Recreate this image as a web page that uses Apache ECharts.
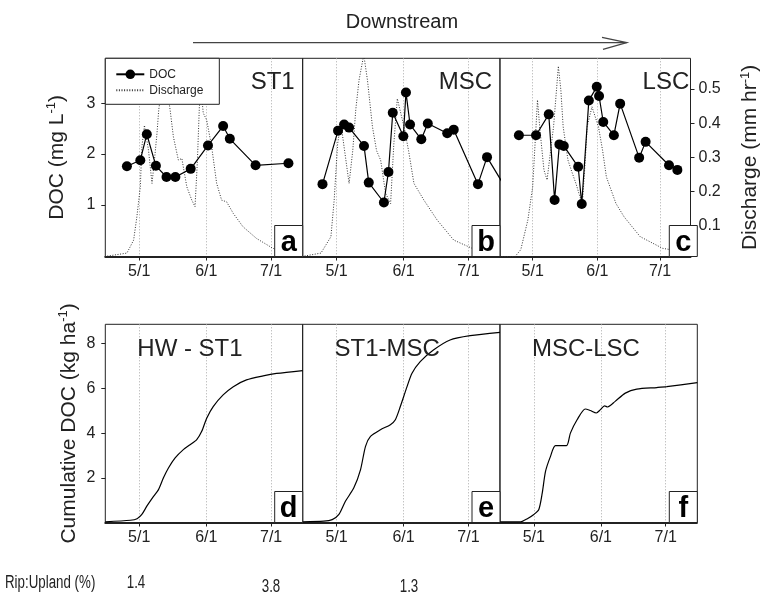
<!DOCTYPE html>
<html>
<head>
<meta charset="utf-8">
<script src="https://cdn.jsdelivr.net/npm/echarts@6/dist/echarts.min.js"></script>
<style>
  html, body { margin: 0; padding: 0; background: #fff; }
  #chart { width: 762px; height: 595px; }
</style>
</head>
<body>
<div id="chart"></div>
<script>
  // all x values are day of year (5/1 = 121, 6/1 = 152, 7/1 = 182)
  const monthDays = [121, 152, 182];
  const monthLabels = ['5/1', '6/1', '7/1'];
  const docTicks = [1, 2, 3];
  const qTicks = [0.1, 0.2, 0.3, 0.4, 0.5];
  const cumTicks = [2, 4, 6, 8];

  const panelNames = ['ST1', 'MSC', 'LSC'];
  const reachNames = ['HW - ST1', 'ST1-MSC', 'MSC-LSC'];
  const panelLetters = ['a', 'b', 'c', 'd', 'e', 'f'];
  const ripUpland = ['1.4', '3.8', '1.3'];

  // DOC (mg L-1)
  const docDaysA = [115.3, 121.5, 124.5, 128.7, 133.6, 137.7, 144.8, 152.8, 159.8, 162.9, 174.8, 190.0];
  const docA = [1.76, 1.88, 2.39, 1.77, 1.55, 1.55, 1.71, 2.17, 2.55, 2.30, 1.78, 1.82];
  const docDaysB = [114.5, 121.7, 124.5, 126.8, 133.7, 135.9, 142.9, 145.0, 147.0, 151.9, 153.1, 155.0, 160.2, 163.2, 172.2, 175.2, 186.4, 190.6, 199];
  const docB = [1.41, 2.46, 2.58, 2.52, 2.16, 1.44, 1.05, 1.65, 2.81, 2.35, 3.21, 2.58, 2.29, 2.60, 2.41, 2.48, 1.41, 1.94, 1.35];
  const docDaysC = [114.4, 122.6, 128.7, 131.5, 133.8, 135.9, 142.8, 144.5, 147.9, 151.7, 152.8, 154.8, 159.9, 162.9, 172.0, 175.1, 186.3, 190.3];
  const docC = [2.37, 2.37, 2.78, 1.10, 2.19, 2.16, 1.75, 1.02, 3.05, 3.32, 3.14, 2.63, 2.37, 2.99, 1.93, 2.24, 1.78, 1.69];

  // Discharge (mm hr-1)
  const qDaysA = [105, 115.3, 118.4, 119.9, 121.5, 122.2, 123.4, 125.3, 126.9, 128, 129.2, 130, 132.5, 135.3, 136.8, 139.1, 140.7, 143, 145.3, 146.8, 147.9, 148.8, 149.6, 150.6, 152.2, 154.5, 156.8, 159.1, 161.4, 164.5, 169, 175.2, 182.8, 190.5, 196.6];
  const qA = [0.01, 0.02, 0.058, 0.126, 0.214, 0.33, 0.394, 0.32, 0.224, 0.29, 0.37, 0.438, 0.56, 0.438, 0.36, 0.292, 0.297, 0.214, 0.175, 0.156, 0.29, 0.448, 0.5, 0.43, 0.409, 0.331, 0.224, 0.175, 0.17, 0.136, 0.097, 0.063, 0.034, 0.019, 0.014];
  const qDaysB = [105, 113.8, 118.4, 119.9, 121.5, 123, 124.5, 126.8, 128.5, 129.9, 131.4, 133.6, 135.3, 137.6, 139.5, 141.4, 143.7, 146, 147.5, 149.1, 152.2, 154.3, 156.8, 161.4, 167.5, 175.2, 183.7, 196.6];
  const qB = [0.01, 0.02, 0.068, 0.175, 0.34, 0.40, 0.33, 0.224, 0.32, 0.44, 0.526, 0.60, 0.526, 0.39, 0.32, 0.292, 0.195, 0.165, 0.34, 0.472, 0.39, 0.32, 0.224, 0.175, 0.117, 0.058, 0.034, 0.02];
  const qDaysC = [105, 112.6, 115.3, 118.7, 121, 122.6, 123.3, 124.5, 126.4, 127.9, 129.6, 131, 132.4, 133.3, 134.5, 135.6, 137.9, 139.8, 141.7, 143.4, 144.8, 146.2, 147.1, 149.4, 152.5, 154.5, 156.3, 160.9, 164.8, 172.5, 183.2, 196.6];
  const qC = [0.01, 0.01, 0.03, 0.117, 0.214, 0.39, 0.468, 0.38, 0.263, 0.234, 0.32, 0.39, 0.497, 0.567, 0.497, 0.39, 0.292, 0.257, 0.224, 0.19, 0.165, 0.292, 0.39, 0.448, 0.39, 0.32, 0.243, 0.165, 0.126, 0.068, 0.034, 0.02];

  // Cumulative DOC (kg ha-1)
  const cumDaysD = [105.3, 116.9, 120, 122.2, 124.5, 127.6, 129.9, 132.2, 134.5, 137.6, 141.4, 144.5, 147.6, 149.9, 152.2, 155.2, 159.8, 164.5, 170.6, 178.3, 184.5, 196.6];
  const cumD = [0.03, 0.1, 0.17, 0.36, 0.73, 1.17, 1.47, 2.0, 2.44, 2.89, 3.26, 3.48, 3.71, 4.08, 4.67, 5.19, 5.71, 6.08, 6.38, 6.56, 6.67, 6.8];
  const cumDaysE = [105.3, 115.1, 119, 122.1, 125.1, 129, 132.1, 134.4, 136.7, 141.3, 145.9, 148.2, 150.5, 153.6, 155.9, 159.7, 165.8, 173.5, 182.8, 196.6];
  const cumE = [0.03, 0.06, 0.13, 0.36, 0.95, 1.55, 2.37, 3.41, 3.85, 4.15, 4.38, 4.6, 5.19, 6.08, 6.68, 7.2, 7.72, 8.17, 8.36, 8.51];
  const cumDaysF = [105.3, 114.9, 118, 121, 123.3, 124.9, 126.4, 128.7, 131, 136.1, 137.9, 141, 144.8, 147.1, 149.9, 151.7, 153.7, 155.1, 158.6, 163.3, 168.6, 177.9, 182.5, 196.6];
  const cumF = [0.03, 0.03, 0.17, 0.36, 0.58, 1.33, 2.29, 2.96, 3.44, 3.44, 4.0, 4.6, 5.08, 5.01, 4.9, 5.04, 5.22, 5.17, 5.42, 5.79, 5.97, 6.04, 6.08, 6.26];

  const FONT = 'Liberation Sans, Arial, Helvetica, sans-serif';
  const INK = '#222';
  const panelLeft = [105.3, 302.6, 499.9];
  const panelW = 197.4;
  const rowTop = [58.3, 324.3];
  const panelH = 198.2;

  const zip = (xs, ys) => xs.map((x, i) => [x, ys[i]]);

  const myChart = echarts.init(document.getElementById('chart'), null, { renderer: 'canvas' });

  const grids = [];
  const xAxes = [];
  for (let r = 0; r < 2; r++) {
    for (let c = 0; c < 3; c++) {
      grids.push({
        left: panelLeft[c], top: rowTop[r], width: panelW, height: panelH,
        show: true, borderColor: INK, borderWidth: 1, backgroundColor: 'transparent',
      });
      xAxes.push({
        type: 'value', gridIndex: r * 3 + c, min: 105.3, max: 196.6,
        axisLine: { show: true, onZero: false, lineStyle: { color: INK, width: 2, type: [2, 1] } },
        axisTick: { show: true, inside: false, length: 4, customValues: monthDays, lineStyle: { color: INK } },
        axisLabel: {
          show: true, customValues: monthDays, margin: 7, fontSize: 16, color: INK, fontFamily: FONT,
          formatter: (v) => monthLabels[monthDays.indexOf(Math.round(v))] || '',
        },
        splitLine: { show: true, lineStyle: { color: '#aaa', type: [1, 2], width: 1 } },
      });
    }
  }

  const hiddenY = (grid, min, max) => ({
    type: 'value', gridIndex: grid, min, max, show: false, splitLine: { show: false },
  });
  const nameRich = {
    t: { fontSize: 21, fontFamily: FONT, color: INK, lineHeight: 24 },
    s: { fontSize: 13, fontFamily: FONT, color: INK, lineHeight: 13, verticalAlign: 'top' },
  };

  const yAxes = [
    // DOC axes (0-2)
    {
      type: 'value', gridIndex: 0, min: -0.01, max: 3.88,
      axisLine: { show: false },
      axisTick: { show: true, length: 4, customValues: docTicks, lineStyle: { color: INK } },
      axisLabel: { customValues: docTicks, margin: 10, fontSize: 16, color: INK, fontFamily: FONT },
      splitLine: { show: false },
      name: '{t|DOC (mg L}{s|-1}{t|)}', nameLocation: 'middle', nameRotate: 90, nameGap: 36,
      nameTextStyle: { rich: nameRich },
    },
    hiddenY(1, -0.01, 3.88),
    hiddenY(2, -0.01, 3.88),
    // discharge axes (3-5)
    hiddenY(0, 0.01, 0.59),
    hiddenY(1, 0.01, 0.59),
    {
      type: 'value', gridIndex: 2, position: 'right', min: 0.01, max: 0.59,
      axisLine: { show: false },
      axisTick: { show: true, length: 4, customValues: qTicks, lineStyle: { color: INK } },
      axisLabel: { customValues: qTicks, margin: 8, fontSize: 16, color: INK, fontFamily: FONT },
      splitLine: { show: false },
      name: '{t|Discharge (mm hr}{s|-1}{t|)}', nameLocation: 'middle', nameRotate: 90, nameGap: 48,
      nameTextStyle: { rich: nameRich },
    },
    // cumulative axes (6-8)
    {
      type: 'value', gridIndex: 3, min: 0, max: 8.87,
      axisLine: { show: false },
      axisTick: { show: true, length: 4, customValues: cumTicks, lineStyle: { color: INK } },
      axisLabel: { customValues: cumTicks, margin: 10, fontSize: 16, color: INK, fontFamily: FONT },
      splitLine: { show: false },
      name: '{t|Cumulative DOC (kg ha}{s|-1}{t|)}', nameLocation: 'middle', nameRotate: 90, nameGap: 24,
      nameTextStyle: { rich: nameRich },
    },
    hiddenY(4, 0, 8.87),
    hiddenY(5, 0, 8.87),
  ];

  const docSets = [[docDaysA, docA], [docDaysB, docB], [docDaysC, docC]];
  const qSets = [[qDaysA, qA], [qDaysB, qB], [qDaysC, qC]];
  const cumSets = [[cumDaysD, cumD], [cumDaysE, cumE], [cumDaysF, cumF]];

  const series = [];
  qSets.forEach(([d, v], i) => {
    series.push({
      name: 'Discharge', type: 'line', xAxisIndex: i, yAxisIndex: 3 + i,
      data: zip(d, v), showSymbol: false, symbol: 'none', z: 2,
      lineStyle: { color: '#333', width: 1, type: [1, 1.6] },
      itemStyle: { color: '#333' },
    });
  });
  docSets.forEach(([d, v], i) => {
    series.push({
      name: 'DOC', type: 'line', xAxisIndex: i, yAxisIndex: i,
      data: zip(d, v), symbol: 'circle', symbolSize: 10, z: 3,
      lineStyle: { color: '#000', width: 1.2 },
      itemStyle: { color: '#000' },
    });
  });
  cumSets.forEach(([d, v], i) => {
    series.push({
      type: 'line', xAxisIndex: 3 + i, yAxisIndex: 6 + i,
      data: zip(d, v), showSymbol: false, symbol: 'none', smooth: 0.25,
      lineStyle: { color: '#000', width: 1.2 },
    });
  });

  const graphics = [];
  // downstream arrow
  graphics.push({
    type: 'text', x: 402, y: 22,
    style: { text: 'Downstream', font: '20px ' + FONT, fill: INK, textAlign: 'center', textVerticalAlign: 'middle' },
  });
  graphics.push({
    type: 'polyline', shape: { points: [[193, 42.7], [626.7, 42.7]] },
    style: { stroke: '#444', lineWidth: 1.3, fill: null },
  });
  graphics.push({
    type: 'polyline', shape: { points: [[602, 37.3], [626.7, 42.7], [603, 49.3]] },
    style: { stroke: '#444', lineWidth: 1.3, fill: null },
  });
  // panel titles
  const titleY = [82, 349];
  panelNames.forEach((t, i) => {
    graphics.push({
      type: 'text', x: panelLeft[i] + panelW - 8, y: titleY[0], z: 10,
      style: { text: t, font: '24px ' + FONT, fill: INK, textAlign: 'right', textVerticalAlign: 'middle' },
    });
  });
  reachNames.forEach((t, i) => {
    graphics.push({
      type: 'text', x: panelLeft[i] + 32, y: titleY[1], z: 10,
      style: { text: t, font: '24px ' + FONT, fill: INK, textAlign: 'left', textVerticalAlign: 'middle' },
    });
  });
  // letter boxes
  panelLetters.forEach((t, k) => {
    const c = k % 3, r = Math.floor(k / 3);
    const bx = panelLeft[c] + panelW - 28, by = rowTop[r] + panelH - 31;
    graphics.push({
      type: 'rect', shape: { x: bx, y: by, width: 28, height: 31 }, z: 10,
      style: { fill: '#fff', stroke: INK, lineWidth: 1 },
    });
    graphics.push({
      type: 'text', x: bx + 14, y: by + 17, z: 11,
      style: { text: t, font: 'bold 29px ' + FONT, fill: '#000', textAlign: 'center', textVerticalAlign: 'middle' },
    });
  });
  // rip:upland row (narrow lettering)
  graphics.push({
    type: 'text', x: 5, y: 583, scaleX: 0.74,
    style: { text: 'Rip:Upland (%)', font: '18px ' + FONT, fill: INK, textVerticalAlign: 'middle' },
  });
  const ripX = [136, 271, 409];
  const ripY = [583, 587, 587];
  ripUpland.forEach((t, i) => {
    graphics.push({
      type: 'text', x: ripX[i], y: ripY[i], scaleX: 0.74,
      style: { text: t, font: '18px ' + FONT, fill: INK, textAlign: 'center', textVerticalAlign: 'middle' },
    });
  });

  const options = {
    animation: false,
    backgroundColor: '#fff',
    textStyle: { fontFamily: FONT },
    legend: {
      data: [{ name: 'DOC' }, { name: 'Discharge', itemStyle: { opacity: 0 } }],
      orient: 'vertical', left: 105.3, top: 58.3,
      itemWidth: 28, itemHeight: 12, itemGap: 4,
      padding: [10, 16, 8, 10],
      borderColor: INK, borderWidth: 1, borderRadius: 0, backgroundColor: '#fff',
      selectedMode: false,
      textStyle: { fontSize: 12, color: INK, fontFamily: FONT },
      z: 5,
    },
    grid: grids,
    xAxis: xAxes,
    yAxis: yAxes,
    series,
    graphic: graphics,
  };

  myChart.setOption(options);
</script>
</body>
</html>
